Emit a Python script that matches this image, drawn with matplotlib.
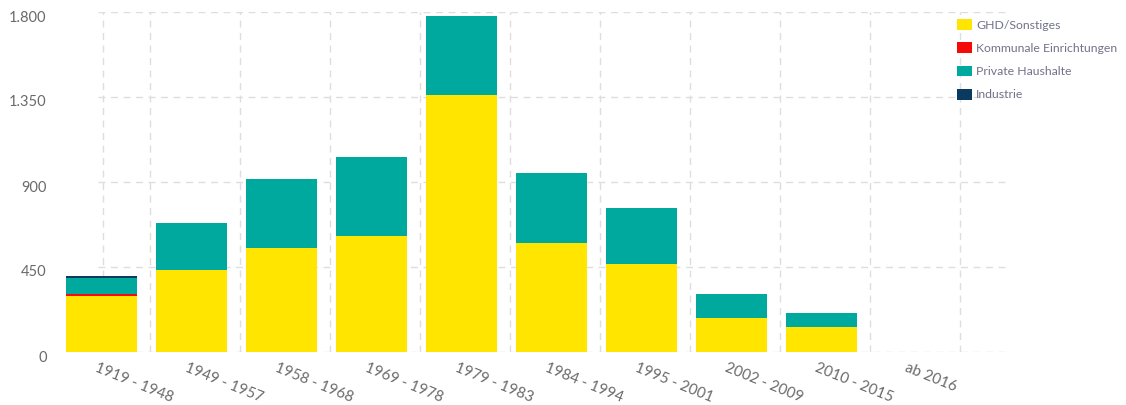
"""Stacked bar chart: values by construction period and sector."""

import matplotlib

matplotlib.use("Agg")

import matplotlib.pyplot as plt
import matplotlib.transforms as mtransforms
import numpy as np
from matplotlib.ticker import FuncFormatter


PERIODS = [
    "1919 - 1948", "1949 - 1957", "1958 - 1968", "1969 - 1978", "1979 - 1983",
    "1984 - 1994", "1995 - 2001", "2002 - 2009", "2010 - 2015", "ab 2016",
]
GHD = [295, 434, 552, 616, 1358, 575, 464, 178, 131, 0]
KOMMUNAL = [10, 0, 0, 0, 5, 0, 0, 0, 0, 1]
PRIVAT = [88, 250, 362, 418, 416, 371, 297, 129, 77, 0]
INDUSTRIE = [9, 0, 0, 0, 0, 0, 0, 0, 0, 0]

SERIES = [
    ("GHD/Sonstiges", GHD, "#FFE500"),
    ("Kommunale Einrichtungen", KOMMUNAL, "#F50A0A"),
    ("Private Haushalte", PRIVAT, "#00A99D"),
    ("Industrie", INDUSTRIE, "#0B3A60"),
]
Y_TICKS = [0, 450, 900, 1350, 1800]

TEXT = "#6a6a6a"
LEGEND_TEXT = "#72728a"
GRID = "#dedede"


def thousands(value, _pos):
    return f"{value:,.0f}".replace(",", ".")


def main() -> None:
    plt.rcParams["font.family"] = ["Lato", "DejaVu Sans"]
    W, H = 1126, 405
    fig = plt.figure(figsize=(W / 100, H / 100), dpi=100)
    left, right, bottom, top = 98, 1007, 352, 12
    ax = fig.add_axes([left / W, 1 - bottom / H, (right - left) / W, (bottom - top) / H])

    x = np.arange(len(PERIODS))
    base = np.zeros(len(PERIODS))
    handles = []
    for name, values, color in SERIES:
        bars = ax.bar(x, values, width=0.79, bottom=base, color=color,
                      label=name, zorder=3, clip_on=False, linewidth=0)
        for patch, value in zip(bars.patches, values):
            if value == 0:
                patch.set_visible(False)
        handles.append(bars)
        base = base + np.array(values)

    ax.set_xlim(-0.039, 10.061)
    ax.set_ylim(0, 1800)

    # dashed grid, vertical lines sit between the categories
    ax.set_yticks(Y_TICKS)
    ax.yaxis.set_major_formatter(FuncFormatter(thousands))
    for y in Y_TICKS:
        ax.axhline(y, color=GRID, lw=1, ls=(0, (5, 4)), zorder=1)
    for xv in [0.02] + list(x + 0.54):
        ax.axvline(xv, color=GRID, lw=1, ls=(0, (5, 4)), zorder=1)

    for spine in ax.spines.values():
        spine.set_visible(False)

    ax.set_xticks(x)
    ax.set_xticklabels(PERIODS, rotation=-22, ha="left", rotation_mode="anchor",
                       fontsize=10.8, color=TEXT)
    ax.tick_params(axis="x", length=0, pad=6)
    ax.tick_params(axis="y", length=0, pad=37, labelsize=10.5, labelcolor=TEXT)

    shift_y = mtransforms.ScaledTranslation(0, -4 / 100, fig.dpi_scale_trans)
    for label in ax.get_yticklabels():
        label.set_transform(label.get_transform() + shift_y)
    shift_x = mtransforms.ScaledTranslation(-3 / 100, 0, fig.dpi_scale_trans)
    for label in ax.get_xticklabels():
        label.set_transform(label.get_transform() + shift_x)

    legend = fig.legend(
        handles=handles,
        loc="upper left",
        bbox_to_anchor=(957 / W, 1 - 19 / H),
        frameon=False,
        fontsize=8.8,
        labelcolor=LEGEND_TEXT,
        handlelength=1.2,
        handleheight=1.0,
        handletextpad=0.35,
        labelspacing=0.95,
        borderpad=0,
        borderaxespad=0,
    )
    for patch in legend.get_patches():
        patch.set_visible(True)

    fig.savefig("out.png", dpi=100)
    plt.close(fig)


if __name__ == "__main__":
    main()
